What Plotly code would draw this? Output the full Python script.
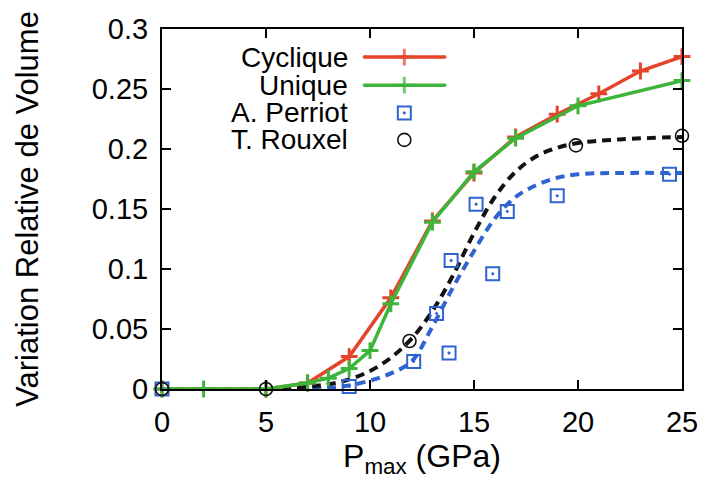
import plotly.graph_objects as go

# Data
cyc_x = [0, 5, 7, 9, 11, 13, 15, 17, 19, 21, 23, 25]
cyc_y = [0, 0, 0.005, 0.027, 0.076, 0.140, 0.180, 0.210, 0.229, 0.246, 0.265, 0.277]

uni_x = [0, 2, 5, 7, 8, 9, 10, 11, 13, 15, 17, 20, 25]
uni_y = [0, 0, 0, 0.005, 0.009, 0.017, 0.032, 0.071, 0.139, 0.181, 0.209, 0.236, 0.257]

per_x = [0, 9, 12.1, 13.2, 13.8, 13.9, 15.1, 15.9, 16.6, 19, 24.4]
per_y = [0, 0.002, 0.023, 0.063, 0.030, 0.107, 0.154, 0.096, 0.148, 0.161, 0.179]

rou_x = [0, 5, 11.9, 19.9, 25]
rou_y = [0, 0, 0.040, 0.203, 0.211]

fit_rou_x = [0, 5, 7, 8, 9, 10, 11, 12, 13, 14, 15, 16, 17, 18, 19, 20, 22, 25]
fit_rou_y = [0, 0, 0.002, 0.004, 0.008, 0.015, 0.026, 0.042, 0.065, 0.095, 0.130, 0.160,
             0.181, 0.194, 0.201, 0.205, 0.208, 0.210]

fit_per_x = [0, 5, 8, 9, 10, 11, 12, 13, 14, 15, 16, 17, 18, 19, 20, 22, 25]
fit_per_y = [0, 0, 0.001, 0.003, 0.007, 0.013, 0.023, 0.052, 0.085, 0.115, 0.142, 0.160,
             0.170, 0.176, 0.179, 0.180, 0.180]

x_ticks = [0, 5, 10, 15, 20, 25]
y_ticks = [0, 0.05, 0.1, 0.15, 0.2, 0.25, 0.3]
y_tick_text = ["0", "0.05", "0.1", "0.15", "0.2", "0.25", "0.3"]

legend_names = ["Cyclique", "Unique", "A. Perriot", "T. Rouxel"]

RED = "#e5432b"
GREEN = "#3db53a"
BLUE = "#2f63cf"
BLACK = "#111111"
FONT = "Liberation Sans, Arial, sans-serif"

fig = go.Figure()

fig.add_trace(go.Scatter(x=fit_per_x, y=fit_per_y, mode="lines", line_shape="spline",
                         line=dict(color=BLUE, width=4, dash="9px,6px"), cliponaxis=False))
fig.add_trace(go.Scatter(x=fit_rou_x, y=fit_rou_y, mode="lines", line_shape="spline",
                         line=dict(color=BLACK, width=4, dash="9px,6px"), cliponaxis=False))
fig.add_trace(go.Scatter(x=cyc_x, y=cyc_y, mode="lines+markers",
                         line=dict(color=RED, width=3.5),
                         marker=dict(symbol="cross-thin", size=12, line=dict(color=RED, width=3)),
                         cliponaxis=False))
fig.add_trace(go.Scatter(x=uni_x, y=uni_y, mode="lines+markers",
                         line=dict(color=GREEN, width=3.5),
                         marker=dict(symbol="cross-thin", size=12, line=dict(color=GREEN, width=3)),
                         cliponaxis=False))
fig.add_trace(go.Scatter(x=per_x, y=per_y, mode="markers",
                         marker=dict(symbol="square-open-dot", size=13, color=BLUE,
                                     line=dict(color=BLUE, width=2)),
                         cliponaxis=False))
fig.add_trace(go.Scatter(x=rou_x, y=rou_y, mode="markers",
                         marker=dict(symbol="circle-open", size=13, color=BLACK,
                                     line=dict(color=BLACK, width=1.6)),
                         cliponaxis=False))

# Manual gnuplot-style key (text on the left, sample on the right)
key_y = [0.922, 0.844, 0.767, 0.692]
for name, ky in zip(legend_names, key_y):
    fig.add_annotation(x=0.362, y=ky, xref="paper", yref="paper", text=name,
                       showarrow=False, xanchor="right", yanchor="middle",
                       font=dict(family=FONT, size=28, color="black"))
fig.add_trace(go.Scatter(x=[0.388, 0.466, 0.545], y=[key_y[0]] * 3, xaxis="x2", yaxis="y2",
                         mode="lines+markers", line=dict(color=RED, width=3.5),
                         marker=dict(symbol="cross-thin", size=[1, 12, 1],
                                     line=dict(color=RED, width=3)), cliponaxis=False))
fig.add_trace(go.Scatter(x=[0.388, 0.466, 0.545], y=[key_y[1]] * 3, xaxis="x2", yaxis="y2",
                         mode="lines+markers", line=dict(color=GREEN, width=3.5),
                         marker=dict(symbol="cross-thin", size=[1, 12, 1],
                                     line=dict(color=GREEN, width=3)), cliponaxis=False))
fig.add_trace(go.Scatter(x=[0.466], y=[key_y[2]], xaxis="x2", yaxis="y2", mode="markers",
                         marker=dict(symbol="square-open-dot", size=13, color=BLUE,
                                     line=dict(color=BLUE, width=2)), cliponaxis=False))
fig.add_trace(go.Scatter(x=[0.466], y=[key_y[3]], xaxis="x2", yaxis="y2", mode="markers",
                         marker=dict(symbol="circle-open", size=13, color=BLACK,
                                     line=dict(color=BLACK, width=1.6)), cliponaxis=False))

axis_common = dict(showline=True, linecolor="black", linewidth=2, mirror="ticks",
                   ticks="inside", ticklen=9, tickwidth=2, tickcolor="black",
                   showgrid=False, zeroline=False,
                   tickfont=dict(family=FONT, size=29, color="black"))

fig.update_layout(
    width=710, height=479,
    margin=dict(l=162, r=20, t=29, b=90),
    paper_bgcolor="white", plot_bgcolor="white",
    showlegend=False,
    xaxis=dict(range=[0, 25], tickvals=x_ticks, ticktext=[str(v) for v in x_ticks],
               ticklabelstandoff=6,
               title=dict(text="P<sub>max</sub> (GPa)", standoff=2,
                          font=dict(family=FONT, size=32, color="black")),
               **axis_common),
    yaxis=dict(range=[0, 0.3], tickvals=y_ticks, ticktext=y_tick_text,
               ticklabelstandoff=6,
               title=dict(text="Variation Relative de Volume", standoff=44,
                          font=dict(family=FONT, size=31, color="black")),
               **axis_common),
    xaxis2=dict(range=[0, 1], overlaying="x", visible=False),
    yaxis2=dict(range=[0, 1], overlaying="y", visible=False),
)

fig.write_html("out.html")
